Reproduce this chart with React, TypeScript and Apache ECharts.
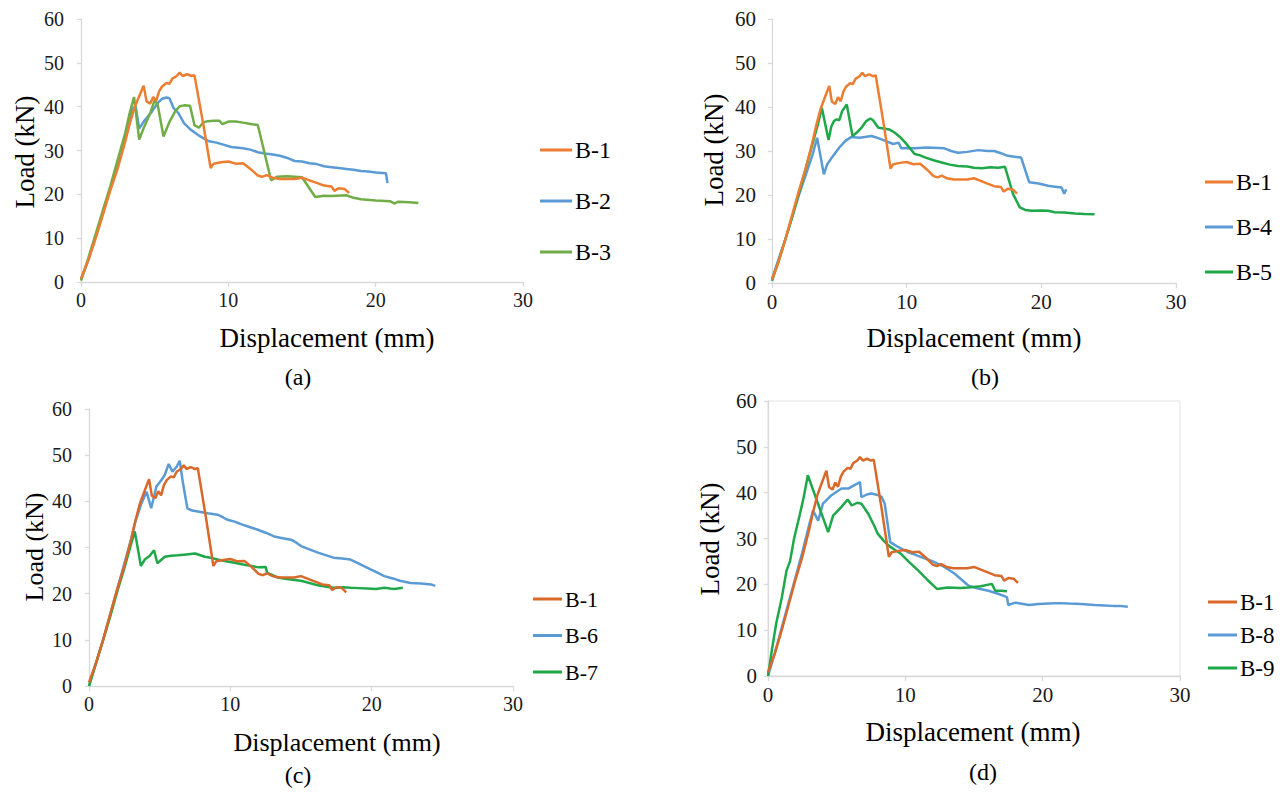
import React, { useEffect, useRef } from "react";
import * as echarts from "echarts";

// ---- data (displacement mm, load kN) ----
const B1: [number, number][] = [
  [0, 0.8], [0.5, 5], [1, 10], [1.5, 15.5], [2, 21], [2.5, 26], [3, 32], [3.3, 36], [3.6, 39.5], [3.9, 42],
  [4.25, 44.8], [4.45, 41.2], [4.7, 40.7], [4.9, 42.2], [5.1, 41.3], [5.3, 43.5], [5.5, 44.6], [5.8, 45.4],
  [6.0, 45.2], [6.2, 46.4], [6.5, 47.0], [6.7, 47.8], [6.9, 47.0], [7.2, 47.4], [7.5, 47.0], [7.7, 47.2],
  [8.3, 36], [8.8, 26.0], [9.0, 27.0], [9.5, 27.3], [10.0, 27.5], [10.5, 27.0], [11.0, 27.1], [11.5, 25.8],
  [12.0, 24.3], [12.3, 24.0], [12.6, 24.4], [13.0, 23.8], [13.5, 23.5], [14.5, 23.5], [15.0, 23.8], [15.5, 23.2],
  [16.0, 22.6], [16.5, 22.0], [17.0, 21.8], [17.2, 20.8], [17.5, 21.4], [17.9, 21.2], [18.2, 20.3],
];
const B2: [number, number][] = [
  [0, 0.5], [0.5, 5], [1, 10.5], [1.5, 16], [2, 21.5], [2.5, 27], [3, 33], [3.5, 39.5], [3.7, 40.2], [3.95, 35],
  [4.3, 36.8], [4.8, 38.8], [5.2, 40.8], [5.5, 41.8], [5.8, 42.1], [6.0, 41.9], [6.3, 39.6], [6.6, 38.6],
  [7.0, 36.2], [7.5, 34.6], [8.0, 33.4], [8.7, 32.1], [9.2, 31.8], [9.6, 31.4], [10.2, 30.8], [11, 30.5],
  [11.5, 30.2], [12, 29.6], [12.5, 29.3], [13, 29.1], [13.5, 28.8], [14, 28.3], [14.5, 27.6], [15, 27.5],
  [15.5, 27.1], [16, 26.9], [16.5, 26.4], [17, 26.2], [17.5, 26.0], [18, 25.8], [18.5, 25.6], [19, 25.3],
  [19.5, 25.2], [20, 25.0], [20.7, 24.8], [20.8, 22.6],
];
const B3: [number, number][] = [
  [0, 0.3], [0.5, 5.5], [1, 11], [1.5, 16.5], [2, 22], [2.5, 28], [3, 34], [3.3, 38.5], [3.6, 42.2], [3.95, 32.5],
  [4.3, 35.5], [4.7, 38.5], [5.0, 41.5], [5.2, 40.5], [5.6, 33.2], [6.0, 36.5], [6.4, 39], [6.7, 40.1],
  [7.0, 40.3], [7.4, 40.2], [7.7, 35.8], [8.0, 35.2], [8.3, 36.4], [8.6, 36.7], [9.0, 36.8], [9.4, 36.8],
  [9.6, 36.0], [10.0, 36.6], [10.5, 36.6], [11.1, 36.3], [11.6, 36.0], [12.0, 35.8], [12.9, 23.2], [13.3, 24.0],
  [14.0, 24.1], [15.0, 23.9], [15.9, 19.4], [16.5, 19.7], [17.0, 19.6], [18.0, 19.8], [18.5, 19.2], [19.0, 18.9],
  [20.0, 18.6], [21.0, 18.4], [21.3, 17.9], [21.5, 18.3], [22.3, 18.2], [22.9, 18.0],
];
const B4: [number, number][] = [
  [0, 1], [0.5, 5.5], [1, 10], [1.5, 15], [2, 20], [2.5, 24.5], [3, 29], [3.35, 33], [3.85, 24.7], [4.1, 27],
  [4.45, 28.5], [5.0, 30.8], [5.45, 32.3], [5.9, 33.2], [6.5, 33.0], [7.4, 33.4], [8.0, 32.8], [8.4, 32.3],
  [9.0, 31.6], [9.4, 31.9], [9.6, 30.6], [10.0, 30.7], [10.6, 30.6], [11.5, 30.8], [12.8, 30.6], [13.3, 30.0],
  [13.8, 29.6], [14.5, 29.8], [15.3, 30.2], [16.0, 30.0], [16.5, 30.0], [17.0, 29.5], [17.5, 28.9], [18.5, 28.5],
  [19.1, 22.9], [19.8, 22.6], [20.5, 22.1], [21.0, 21.9], [21.5, 21.7], [21.7, 20.3], [21.85, 21.3],
];
const B5: [number, number][] = [
  [0, 0.5], [0.5, 5], [1, 10], [1.5, 15], [2, 20.5], [2.5, 26], [3, 31.5], [3.4, 36], [3.7, 39.8], [4.2, 32.5],
  [4.4, 35.5], [4.6, 36.8], [4.8, 37.2], [5.0, 37.0], [5.2, 39.0], [5.55, 40.6], [5.98, 33.4], [6.3, 34.2],
  [6.7, 35.5], [7.0, 36.8], [7.3, 37.4], [7.5, 37.0], [7.9, 35.3], [8.3, 35.1], [8.7, 34.9], [9.1, 34.2],
  [9.5, 33.2], [9.9, 31.9], [10.3, 30.4], [10.6, 29.3], [11.0, 29.0], [11.4, 28.5], [12.0, 27.9], [12.6, 27.4],
  [13.2, 26.9], [13.8, 26.6], [14.5, 26.5], [15.0, 26.2], [15.6, 26.1], [16.2, 26.3], [16.8, 26.2], [17.3, 26.4],
  [17.9, 20.2], [18.4, 17.2], [18.8, 16.6], [19.3, 16.4], [20.0, 16.5], [20.5, 16.4], [21.0, 16.1], [21.7, 16.0],
  [22.5, 15.8], [23.2, 15.7], [23.95, 15.6],
];
const B6: [number, number][] = [
  [0, 0], [0.5, 5], [1, 10], [1.5, 15.5], [2, 21], [2.5, 26.5], [3, 32], [3.25, 35.3], [3.7, 39.5], [4.07, 42.1],
  [4.4, 38.5], [4.77, 43.2], [5.1, 44.5], [5.36, 45.7], [5.64, 48.1], [5.9, 46.4], [6.2, 47.5], [6.42, 48.8],
  [6.65, 43.9], [6.96, 38.5], [7.3, 38.0], [7.7, 37.8], [8.4, 37.4], [9.1, 37.1], [9.5, 36.5], [9.8, 36.0],
  [10.3, 35.6], [10.8, 35.0], [11.3, 34.5], [11.9, 33.9], [12.5, 33.2], [13.1, 32.4], [13.7, 32.0], [14.3, 31.7],
  [14.7, 31.0], [15.0, 30.3], [15.6, 29.6], [16.2, 28.9], [16.8, 28.3], [17.3, 27.8], [17.9, 27.6], [18.5, 27.4],
  [19.1, 26.5], [19.7, 25.6], [20.3, 24.7], [20.9, 23.8], [21.5, 23.3], [22.0, 22.8], [22.75, 22.3], [23.5, 22.2],
  [24.2, 22.0], [24.5, 21.7],
];
const B7: [number, number][] = [
  [0, 0], [0.5, 5], [1, 10], [1.5, 15], [2, 20.5], [2.5, 25.5], [3, 31], [3.24, 33.5], [3.67, 26.0], [3.95, 27.4],
  [4.3, 28.2], [4.6, 29.4], [4.84, 26.6], [5.36, 28.0], [5.8, 28.2], [6.3, 28.3], [6.9, 28.5], [7.5, 28.7],
  [8.2, 28.0], [8.6, 27.8], [9.1, 27.4], [9.7, 27.0], [10.3, 26.7], [10.9, 26.3], [11.5, 26.0], [12.0, 25.7],
  [12.5, 25.8], [12.6, 24.5], [13.0, 24.0], [13.35, 23.5], [14.0, 23.2], [15.0, 22.8], [15.6, 22.3], [16.2, 21.8],
  [16.8, 21.5], [17.3, 21.3], [18.0, 21.4], [18.5, 21.3], [19.1, 21.2], [19.7, 21.1], [20.3, 21.0], [20.9, 21.3],
  [21.3, 21.1], [21.6, 21.0], [22.2, 21.3],
];
const B8: [number, number][] = [
  [0, 0], [0.5, 5], [1, 10.5], [1.5, 16], [2, 21.5], [2.5, 27], [3, 33], [3.28, 36.1], [3.65, 33.9], [4.0, 37.6],
  [4.3, 38.5], [4.6, 39.4], [5.0, 40.2], [5.35, 40.9], [5.84, 40.9], [6.2, 41.5], [6.7, 42.3], [6.8, 39.0],
  [7.2, 39.6], [7.5, 39.8], [8.0, 39.5], [8.27, 39.1], [8.5, 37.6], [8.9, 29.2], [9.5, 28.1], [10.2, 27.0],
  [10.7, 26.5], [11.2, 25.9], [12.0, 25.0], [12.65, 24.1], [13.1, 23.3], [13.6, 22.3], [14.1, 21.0], [14.6, 19.7],
  [15.3, 19.1], [16.05, 18.6], [16.7, 18.0], [17.4, 17.2], [17.5, 15.5], [18.0, 16.0], [19.0, 15.5], [19.7, 15.7],
  [20.4, 15.8], [21.2, 15.9], [21.9, 15.8], [22.8, 15.7], [23.8, 15.5], [24.5, 15.4], [25.1, 15.3], [25.6, 15.3],
  [26.2, 15.1],
];
const B9: [number, number][] = [
  [0, 0], [0.3, 6], [0.6, 11.5], [1.0, 17], [1.35, 23], [1.6, 25], [1.9, 30], [2.3, 35], [2.6, 39], [2.9, 43.8],
  [4.38, 31.4], [4.74, 35.0], [5.0, 35.8], [5.35, 36.9], [5.8, 38.5], [6.1, 37.2], [6.5, 37.8], [6.8, 37.6],
  [7.3, 35.4], [7.7, 33.0], [8.0, 31.0], [8.4, 29.6], [8.76, 28.5], [9.2, 27.6], [9.7, 26.6], [10.3, 24.8],
  [10.95, 23.0], [11.6, 21.0], [12.3, 19.0], [13.1, 19.3], [14.0, 19.2], [14.6, 19.3], [15.5, 19.6], [16.3, 20.1],
  [16.55, 18.6], [17.0, 18.6], [17.4, 18.5],
];

const X_TICKS = [0, 10, 20, 30];
const Y_TICKS = [0, 10, 20, 30, 40, 50, 60];
const PANEL_LABELS = ["(a)", "(b)", "(c)", "(d)"];
const X_TITLE = "Displacement (mm)";
const Y_TITLE = "Load (kN)";

const ORANGE_A = "#ED7D31";
const ORANGE_C = "#D8692A";
const BLUE = "#5B9BD5";
const GREEN_A = "#70AD47";
const GREEN_B = "#1FA84A";

const FONT = "'Liberation Serif', 'Times New Roman', serif";

type SeriesDef = { name: string; data: [number, number][]; color: string };
type Panel = {
  grid: { left: number; top: number; width: number; height: number; border?: boolean };
  series: SeriesDef[];
  yLabelMargin: number;
  tickFont: number;
  legend: { left: number; top: number; gap: number; iconW: number; font: number };
  xTitle: [number, number, number];
  yTitle: [number, number, number];
  caption: [number, number];
};

const PANELS: Panel[] = [
  {
    grid: { left: 81, top: 19, width: 442, height: 263 },
    series: [
      { name: "B-1", data: B1, color: ORANGE_A },
      { name: "B-2", data: B2, color: BLUE },
      { name: "B-3", data: B3, color: GREEN_A },
    ],
    yLabelMargin: 17,
    tickFont: 20,
    legend: { left: 540, top: 138, gap: 27, iconW: 32, font: 24 },
    xTitle: [327, 338, 27],
    yTitle: [25, 152, 27],
    caption: [298, 377],
  },
  {
    grid: { left: 772, top: 19, width: 404, height: 264 },
    series: [
      { name: "B-1", data: B1, color: ORANGE_A },
      { name: "B-4", data: B4, color: BLUE },
      { name: "B-5", data: B5, color: GREEN_B },
    ],
    yLabelMargin: 16,
    tickFont: 21,
    legend: { left: 1205, top: 170, gap: 21, iconW: 28, font: 24 },
    xTitle: [974, 338, 27],
    yTitle: [714, 150, 27],
    caption: [985, 377],
  },
  {
    grid: { left: 89, top: 409, width: 424, height: 277 },
    series: [
      { name: "B-1", data: B1, color: ORANGE_C },
      { name: "B-6", data: B6, color: BLUE },
      { name: "B-7", data: B7, color: GREEN_B },
    ],
    yLabelMargin: 17,
    tickFont: 20,
    legend: { left: 533, top: 588, gap: 14.5, iconW: 29, font: 22 },
    xTitle: [337, 742, 26],
    yTitle: [34, 547, 26],
    caption: [298, 775],
  },
  {
    grid: { left: 768, top: 401, width: 412, height: 275, border: true },
    series: [
      { name: "B-1", data: B1, color: ORANGE_C },
      { name: "B-8", data: B8, color: BLUE },
      { name: "B-9", data: B9, color: GREEN_B },
    ],
    yLabelMargin: 11,
    tickFont: 21,
    legend: { left: 1208, top: 590.5, gap: 10, iconW: 29, font: 23 },
    xTitle: [973, 732, 27],
    yTitle: [710, 539, 27],
    caption: [983, 772],
  },
];

function buildOption() {
  const axisGray = "#D9D9D9";
  const grid: any[] = [];
  const xAxis: any[] = [];
  const yAxis: any[] = [];
  const series: any[] = [];
  const legend: any[] = [];
  const graphic: any[] = [];

  PANELS.forEach((p, i) => {
    grid.push({
      left: p.grid.left,
      top: p.grid.top,
      width: p.grid.width,
      height: p.grid.height,
      show: !!p.grid.border,
      borderColor: "#E3E3E3",
      borderWidth: 1,
      containLabel: false,
    });
    xAxis.push({
      type: "value",
      gridIndex: i,
      min: X_TICKS[0],
      max: X_TICKS[X_TICKS.length - 1],
      interval: X_TICKS[1] - X_TICKS[0],
      splitLine: { show: false },
      axisLine: { show: true, lineStyle: { color: axisGray, width: 1.3 } },
      axisTick: { show: true, length: 5, lineStyle: { color: axisGray, width: 1.3 } },
      axisLabel: { color: "#1a1a1a", fontFamily: FONT, fontSize: p.tickFont, margin: 8 },
    });
    yAxis.push({
      type: "value",
      gridIndex: i,
      min: Y_TICKS[0],
      max: Y_TICKS[Y_TICKS.length - 1],
      interval: Y_TICKS[1] - Y_TICKS[0],
      splitLine: { show: false },
      axisLine: { show: true, lineStyle: { color: axisGray, width: 1.3 } },
      axisTick: { show: true, length: 4, lineStyle: { color: axisGray, width: 1.3 } },
      axisLabel: { color: "#1a1a1a", fontFamily: FONT, fontSize: p.tickFont, margin: p.yLabelMargin },
    });
    p.series.forEach((s) => {
      series.push({
        type: "line",
        name: s.name,
        xAxisIndex: i,
        yAxisIndex: i,
        data: s.data,
        showSymbol: false,
        symbol: "none",
        lineStyle: { color: s.color, width: 2.5 },
        itemStyle: { color: s.color },
        z: s.name === "B-1" ? 3 : 2,
      });
    });
    legend.push({
      orient: "vertical",
      left: p.legend.left,
      top: p.legend.top,
      padding: 0,
      itemGap: p.legend.gap,
      itemWidth: p.legend.iconW,
      itemHeight: 3,
      icon: "rect",
      selectedMode: false,
      textStyle: { fontFamily: FONT, fontSize: p.legend.font, color: "#000", padding: [0, 0, 0, -2] },
      data: p.series.map((s) => ({ name: s.name, itemStyle: { color: s.color } })),
    });
    graphic.push({
      type: "text",
      x: p.xTitle[0],
      y: p.xTitle[1],
      style: {
        text: X_TITLE,
        fontFamily: FONT,
        fontSize: p.xTitle[2],
        fill: "#000",
        align: "center",
        verticalAlign: "middle",
      },
    });
    graphic.push({
      type: "text",
      x: p.yTitle[0],
      y: p.yTitle[1],
      rotation: Math.PI / 2,
      style: {
        text: Y_TITLE,
        fontFamily: FONT,
        fontSize: p.yTitle[2],
        fill: "#000",
        align: "center",
        verticalAlign: "middle",
      },
    });
    graphic.push({
      type: "text",
      x: p.caption[0],
      y: p.caption[1],
      style: {
        text: PANEL_LABELS[i],
        fontFamily: FONT,
        fontSize: 24,
        fill: "#000",
        align: "center",
        verticalAlign: "middle",
      },
    });
  });

  return {
    animation: false,
    backgroundColor: "#ffffff",
    grid,
    xAxis,
    yAxis,
    series,
    legend,
    graphic,
  };
}

export default function App() {
  const ref = useRef<HTMLDivElement>(null);
  useEffect(() => {
    if (!ref.current) return;
    const chart = echarts.init(ref.current, undefined, { renderer: "svg" });
    chart.setOption(buildOption() as any);
    return () => chart.dispose();
  }, []);
  return (
    <div
      ref={ref}
      style={{ position: "absolute", left: 0, top: 0, width: 1283, height: 792, background: "#fff" }}
    />
  );
}
